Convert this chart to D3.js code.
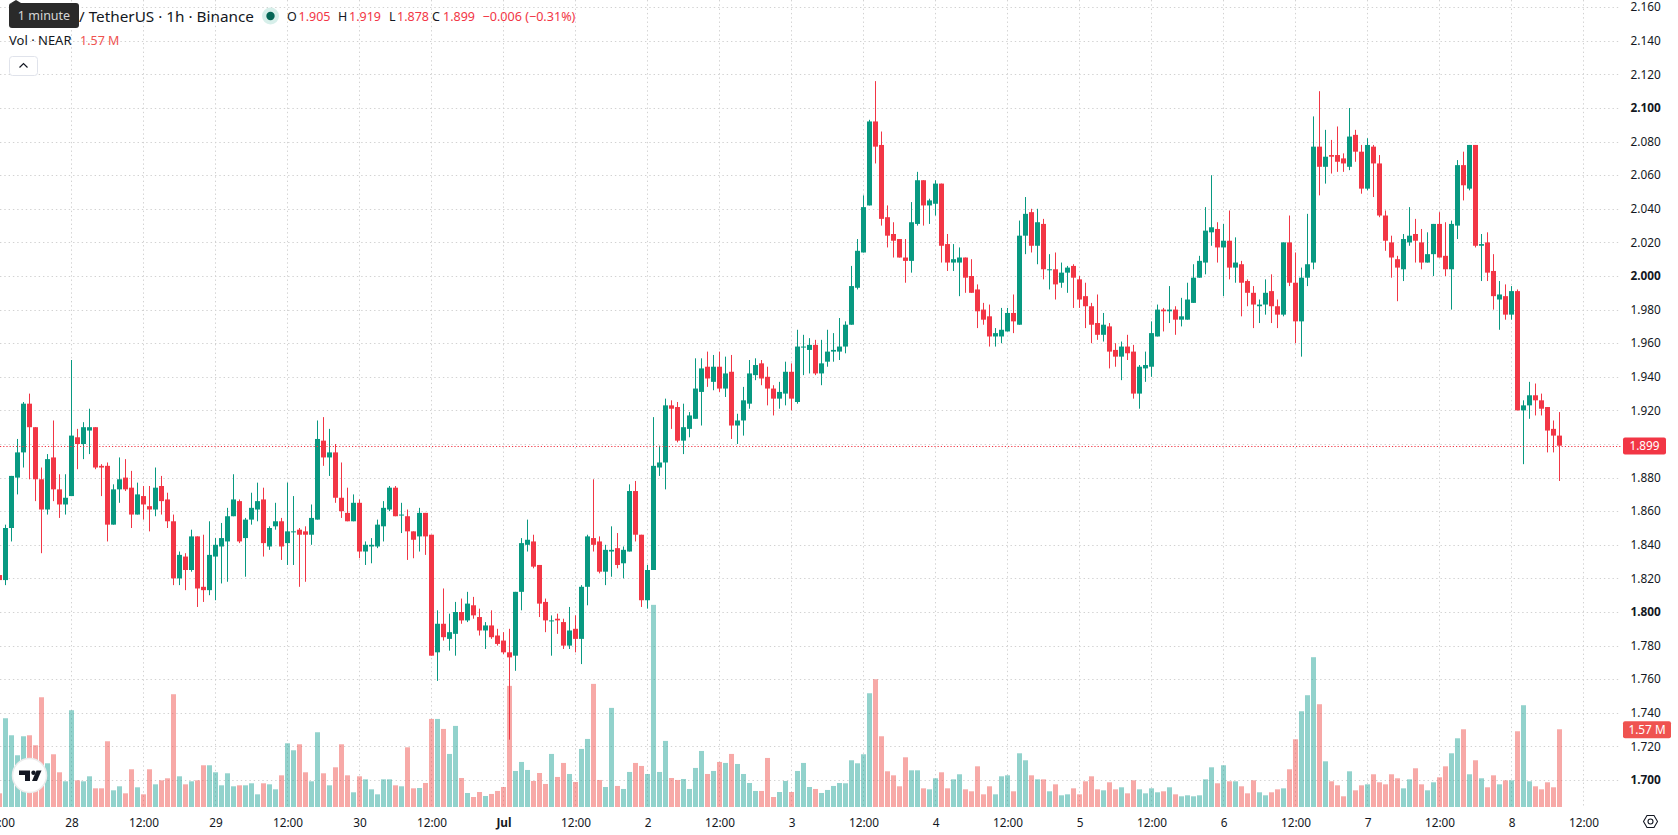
<!DOCTYPE html>
<html>
<head>
<meta charset="utf-8">
<title>NEAR / TetherUS 1h</title>
<script src="https://cdn.jsdelivr.net/npm/d3@7/dist/d3.min.js"></script>
<style>
  html, body { margin: 0; padding: 0; background: #fff; overflow: hidden; }
  svg { display: block; }
  text { font-family: "Noto Sans", "Open Sans", sans-serif; fill: #131722; }
</style>
</head>
<body>
<svg id="chart" width="1678" height="835"></svg>
<script>
// Hourly candles starting 27 Jun 12:00 UTC
const firstBar = Date.UTC(2025, 5, 27, 12);

const opens = [
  1.822,1.819,1.850,1.880,1.895,1.924,1.910,1.879,1.861,1.892,
  1.873,1.864,1.869,1.904,1.900,1.908,1.910,1.887,1.887,1.852,
  1.873,1.880,1.874,1.858,1.869,1.863,1.861,1.875,1.867,1.854,
  1.820,1.833,1.825,1.845,1.815,1.813,1.833,1.839,1.842,1.857,
  1.866,1.844,1.855,1.861,1.867,1.839,1.851,1.854,1.841,1.848,
  1.849,1.848,1.846,1.855,1.902,1.892,1.895,1.868,1.859,1.854,
  1.865,1.836,1.839,1.839,1.851,1.861,1.874,1.858,1.857,1.848,
  1.845,1.859,1.846,1.776,1.793,1.784,1.787,1.800,1.795,1.804,
  1.797,1.789,1.792,1.786,1.783,1.776,1.774,1.812,1.840,1.842,
  1.828,1.806,1.795,1.796,1.794,1.780,1.790,1.784,1.815,1.844,
  1.842,1.824,1.836,1.838,1.829,1.836,1.872,1.846,1.807,1.825,
  1.886,1.889,1.923,1.922,1.902,1.909,1.915,1.931,1.946,1.937,
  1.946,1.933,1.943,1.911,1.914,1.924,1.941,1.948,1.940,1.933,
  1.927,1.930,1.943,1.925,1.958,1.956,1.959,1.942,1.949,1.955,
  1.955,1.958,1.971,1.993,2.014,2.042,2.092,2.078,2.035,2.025,
  2.022,2.011,2.009,2.031,2.057,2.042,2.043,2.055,2.019,2.008,
  2.008,2.011,2.000,1.992,1.980,1.976,1.964,1.964,1.967,1.978,
  1.971,2.024,2.038,2.018,2.031,2.004,2.004,1.996,2.002,2.006,
  1.998,1.988,1.982,1.972,1.965,1.970,1.956,1.952,1.958,1.955,
  1.930,1.945,1.946,1.964,1.980,1.979,1.980,1.974,1.974,1.984,
  1.999,2.008,2.026,2.028,2.017,2.021,2.005,2.007,1.997,1.990,
  1.982,1.983,1.991,1.982,1.977,2.020,1.996,1.973,1.999,2.008,
  2.077,2.065,2.072,2.072,2.070,2.065,2.084,2.074,2.052,2.077,
  2.067,2.036,2.020,2.010,2.004,2.020,2.025,2.020,2.008,2.013,
  2.031,2.012,2.004,2.030,2.066,2.052,2.078,2.018,2.020,2.003,
  1.986,1.988,1.977,1.991,1.920,1.923,1.929,1.926,1.922,1.909,1.905
];

const highs = [
  1.825,1.852,1.881,1.903,1.925,1.930,1.910,1.886,1.894,1.914,
  1.882,1.882,1.950,1.909,1.913,1.921,1.910,1.888,1.889,1.876,
  1.892,1.891,1.884,1.877,1.875,1.875,1.886,1.881,1.871,1.858,
  1.836,1.835,1.849,1.845,1.846,1.854,1.844,1.853,1.862,1.882,
  1.867,1.856,1.871,1.877,1.874,1.851,1.865,1.856,1.877,1.869,
  1.850,1.851,1.864,1.914,1.916,1.909,1.900,1.889,1.874,1.870,
  1.867,1.842,1.844,1.855,1.866,1.875,1.875,1.865,1.861,1.848,
  1.862,1.859,1.846,1.801,1.814,1.799,1.806,1.808,1.812,1.809,
  1.802,1.794,1.801,1.790,1.788,1.790,1.812,1.844,1.855,1.846,
  1.828,1.808,1.798,1.799,1.796,1.803,1.798,1.816,1.846,1.879,
  1.845,1.840,1.851,1.847,1.839,1.876,1.878,1.846,1.828,1.916,
  1.899,1.927,1.926,1.925,1.924,1.919,1.951,1.951,1.955,1.953,
  1.955,1.952,1.953,1.918,1.934,1.950,1.951,1.950,1.946,1.935,
  1.937,1.949,1.948,1.968,1.965,1.963,1.962,1.962,1.968,1.966,
  1.975,1.973,2.006,2.022,2.048,2.093,2.116,2.086,2.042,2.032,
  2.022,2.022,2.044,2.062,2.057,2.046,2.057,2.055,2.025,2.019,
  2.017,2.011,2.010,1.995,1.984,1.983,1.969,1.981,1.981,1.989,
  2.033,2.047,2.040,2.040,2.034,2.013,2.014,2.008,2.006,2.007,
  2.000,1.996,1.984,1.989,1.978,1.972,1.960,1.961,1.965,1.959,
  1.947,1.955,1.973,1.983,1.981,1.994,1.982,1.987,1.996,2.007,
  2.012,2.041,2.060,2.032,2.031,2.039,2.023,2.009,1.998,1.994,
  1.986,1.998,2.001,1.986,2.020,2.036,2.014,2.005,2.037,2.095,
  2.110,2.087,2.081,2.089,2.073,2.100,2.087,2.078,2.082,2.078,
  2.072,2.039,2.024,2.012,2.025,2.041,2.034,2.028,2.026,2.031,
  2.038,2.032,2.033,2.069,2.074,2.078,2.078,2.025,2.026,2.013,
  1.997,1.995,1.994,1.992,1.926,1.937,1.936,1.930,1.922,1.914,1.919
];

const lows = [
  1.815,1.816,1.842,1.870,1.886,1.879,1.866,1.835,1.858,1.866,
  1.856,1.858,1.869,1.885,1.891,1.894,1.885,1.869,1.842,1.852,
  1.865,1.872,1.850,1.858,1.855,1.848,1.857,1.858,1.850,1.816,
  1.816,1.813,1.824,1.803,1.806,1.810,1.807,1.817,1.818,1.857,
  1.841,1.821,1.852,1.854,1.833,1.837,1.849,1.831,1.828,1.828,
  1.815,1.818,1.840,1.855,1.887,1.881,1.865,1.856,1.854,1.854,
  1.832,1.828,1.829,1.838,1.842,1.860,1.857,1.847,1.831,1.832,
  1.836,1.834,1.774,1.759,1.783,1.777,1.774,1.793,1.794,1.796,
  1.786,1.778,1.784,1.780,1.775,1.724,1.765,1.801,1.836,1.826,
  1.797,1.788,1.774,1.787,1.778,1.778,1.776,1.769,1.804,1.836,
  1.823,1.816,1.821,1.826,1.820,1.836,1.842,1.803,1.802,1.825,
  1.881,1.873,1.909,1.901,1.894,1.904,1.915,1.911,1.934,1.932,
  1.931,1.928,1.903,1.900,1.905,1.921,1.938,1.935,1.923,1.917,
  1.921,1.923,1.920,1.924,1.941,1.942,1.941,1.935,1.946,1.949,
  1.950,1.954,1.971,1.992,2.014,2.042,2.067,2.030,2.017,2.011,
  2.011,1.996,2.002,2.030,2.030,2.031,2.036,2.008,2.003,2.003,
  1.988,1.990,1.990,1.969,1.971,1.958,1.958,1.960,1.967,1.966,
  1.971,2.013,2.014,2.007,1.998,1.992,1.986,1.993,1.990,1.981,
  1.981,1.969,1.960,1.962,1.961,1.945,1.946,1.938,1.950,1.927,
  1.921,1.937,1.940,1.964,1.967,1.972,1.965,1.970,1.974,1.984,
  1.999,2.001,2.018,2.008,1.988,1.998,1.996,1.976,1.982,1.969,
  1.972,1.977,1.972,1.969,1.976,1.994,1.960,1.952,1.994,2.004,
  2.048,2.055,2.061,2.062,2.062,2.063,2.068,2.049,2.051,2.047,
  2.035,2.015,1.999,1.985,1.997,2.018,2.008,2.004,2.008,2.000,
  2.011,2.000,1.980,2.022,2.045,2.051,2.017,1.997,1.997,1.980,
  1.968,1.974,1.974,1.920,1.888,1.915,1.917,1.917,1.895,1.895,1.878
];

const closes = [
  1.819,1.850,1.881,1.895,1.924,1.910,1.879,1.861,1.891,1.873,
  1.864,1.868,1.905,1.900,1.910,1.910,1.886,1.886,1.852,1.873,
  1.879,1.873,1.858,1.870,1.864,1.861,1.874,1.866,1.854,1.820,
  1.834,1.825,1.845,1.814,1.813,1.834,1.840,1.844,1.857,1.867,
  1.842,1.855,1.862,1.866,1.841,1.850,1.854,1.839,1.848,1.848,
  1.846,1.846,1.856,1.903,1.892,1.895,1.868,1.860,1.854,1.865,
  1.836,1.840,1.840,1.852,1.862,1.874,1.857,1.858,1.848,1.843,
  1.859,1.845,1.774,1.793,1.785,1.788,1.800,1.795,1.805,1.798,
  1.789,1.792,1.785,1.781,1.776,1.773,1.812,1.841,1.843,1.827,
  1.805,1.795,1.795,1.795,1.780,1.789,1.784,1.815,1.845,1.840,
  1.824,1.837,1.837,1.828,1.837,1.872,1.846,1.807,1.825,1.887,
  1.889,1.923,1.921,1.902,1.910,1.917,1.933,1.945,1.939,1.946,
  1.933,1.942,1.911,1.914,1.926,1.942,1.947,1.939,1.933,1.927,
  1.931,1.943,1.927,1.958,1.958,1.959,1.942,1.948,1.955,1.956,
  1.958,1.971,1.994,2.015,2.041,2.092,2.077,2.034,2.024,2.021,
  2.011,2.009,2.032,2.057,2.042,2.045,2.055,2.018,2.008,2.010,
  2.011,1.999,1.990,1.979,1.974,1.964,1.966,1.968,1.978,1.973,
  2.024,2.037,2.018,2.032,2.004,2.004,1.995,2.002,2.005,1.999,
  1.986,1.982,1.971,1.965,1.971,1.955,1.952,1.958,1.954,1.930,
  1.946,1.947,1.966,1.980,1.979,1.980,1.974,1.976,1.986,1.999,
  2.009,2.027,2.029,2.017,2.021,2.005,2.008,1.996,1.990,1.983,
  1.983,1.990,1.982,1.977,2.020,1.996,1.973,1.999,2.007,2.077,
  2.065,2.071,2.071,2.068,2.067,2.083,2.074,2.052,2.078,2.067,
  2.036,2.021,2.011,2.005,2.022,2.024,2.021,2.008,2.013,2.031,
  2.011,2.004,2.031,2.066,2.054,2.078,2.018,2.019,2.002,1.988,
  1.989,1.977,1.991,1.920,1.923,1.929,1.926,1.921,1.908,1.905,1.899
];

// Volume per hour, in thousands of NEAR
const volumes = [
  276,1793,1449,1045,1429,1449,1247,2217,883,1065,
  701,519,1955,539,519,620,377,377,1328,337,
  418,276,762,398,256,762,458,539,580,2278,
  620,458,519,539,843,843,701,438,681,418,
  438,438,479,256,479,458,357,640,1287,1146,
  1267,701,519,1510,681,438,802,1267,640,297,
  620,559,357,256,559,559,438,418,1206,377,
  384,485,1779,1779,1577,1072,1638,586,283,202,
  303,222,263,324,404,2447,728,910,748,526,
  687,465,1072,607,890,667,506,1173,1375,2487,
  546,404,2002,425,364,708,890,829,667,4084,
  708,1335,586,546,566,364,789,1132,667,728,
  910,890,1072,869,667,485,324,324,991,202,
  303,526,303,728,890,404,364,283,344,425,
  485,479,944,883,1065,2298,2581,1429,721,640,
  418,1004,741,741,377,357,580,701,377,559,
  661,357,317,822,256,418,256,620,640,317,
  1085,944,640,559,559,317,458,236,256,377,
  256,519,620,357,337,499,357,398,276,539,
  357,276,377,297,317,398,256,216,236,216,
  236,559,802,479,843,519,519,418,276,539,
  297,236,297,357,377,762,1368,1934,2258,3026,
  2076,923,519,438,216,721,337,438,458,661,
  499,458,661,580,377,559,782,458,337,499,
  600,822,1085,1388,1570,661,944,580,398,640,
  458,539,539,1530,2056,519,418,357,499,398,1570
];

const gridPrices = d3.range(108, 85 - 1e-9, -1).map(k => +(k * 0.02).toFixed(2)).filter(p => p >= 1.7 - 1e-9 && p <= 2.16 + 1e-9);
const priceTickLabels = ["2.160","2.140","2.120","2.100","2.080","2.060","2.040","2.020","2.000","1.980","1.960","1.940","1.920","1.880","1.860","1.840","1.820","1.800","1.780","1.760","1.740","1.720","1.700"];
const boldPriceLabels = ["2.100","2.000","1.800","1.700"];

const legendValues = [
  { key: "O", label: "1.905", keyX: 287, valX: 298.5 },
  { key: "H", label: "1.919", keyX: 338, valX: 349 },
  { key: "L", label: "1.878", keyX: 389, valX: 397 },
  { key: "C", label: "1.899", keyX: 432, valX: 443 }
];

const upColor = "#089981", downColor = "#f23645";
const volUp = "rgba(38,166,154,0.5)", volDown = "rgba(239,83,80,0.5)";
const gridColor = "#d2d2d2";
const plotRight = 1621, plotBottom = 807;
const hour = 3600e3;

const bars = closes.map((c, i) => ({
  t: new Date(firstBar + i * hour), o: opens[i], h: highs[i], l: lows[i], c, v: volumes[i], up: c >= opens[i]
}));

const x = d3.scaleUtc()
  .domain([new Date(firstBar), new Date(firstBar + 260 * hour)])
  .range([-0.5, 1559.5]);
const y = d3.scaleLinear().domain([1.70, 2.16]).range([780, 7.2]);
const yVol = d3.scaleLinear().domain([0, 4000]).range([plotBottom, 609]);

const svg = d3.select("#chart");

// Dotted grid
const grid = svg.append("g").attr("stroke", gridColor).attr("stroke-dasharray", "1.4 2.9").attr("stroke-width", 1);
grid.selectAll("line.h").data(gridPrices).join("line").attr("class", "h")
  .attr("x1", 0).attr("x2", plotRight)
  .attr("y1", d => Math.round(y(d)) + 0.5).attr("y2", d => Math.round(y(d)) + 0.5);
const gridTimes = d3.range(1, 23).map(k => new Date(firstBar + k * 12 * hour));
grid.selectAll("line.v").data(gridTimes).join("line").attr("class", "v")
  .attr("y1", 0).attr("y2", plotBottom)
  .attr("x1", d => x(d)).attr("x2", d => x(d));

// Volume histogram sits behind the candles
svg.append("g").selectAll("rect").data(bars).join("rect")
  .attr("x", d => x(d.t) - 2.5).attr("width", 5)
  .attr("y", d => yVol(d.v)).attr("height", d => plotBottom - yVol(d.v))
  .attr("fill", d => d.up ? volUp : volDown);

// Candles: wick then body
const candles = svg.append("g").selectAll("g").data(bars).join("g")
  .attr("fill", d => d.up ? upColor : downColor);
candles.append("rect")
  .attr("x", d => x(d.t) - 0.5).attr("width", 1)
  .attr("y", d => y(d.h)).attr("height", d => y(d.l) - y(d.h));
candles.append("rect")
  .attr("x", d => x(d.t) - 2.5).attr("width", 5)
  .attr("y", d => y(Math.max(d.o, d.c)))
  .attr("height", d => Math.max(1, Math.abs(y(d.o) - y(d.c))));

// Last-price line
const last = bars[bars.length - 1];
svg.append("line").attr("x1", 0).attr("x2", plotRight)
  .attr("y1", Math.round(y(last.c)) + 0.5).attr("y2", Math.round(y(last.c)) + 0.5)
  .attr("stroke", downColor).attr("stroke-dasharray", "1.2 2");

// Price axis
const priceAxis = d3.axisRight(y)
  .tickValues(priceTickLabels.map(Number))
  .tickFormat(d3.format(".3f"))
  .tickSize(0).tickPadding(9.5);
const gPrice = svg.append("g").attr("transform", `translate(${plotRight},0)`).call(priceAxis);
gPrice.select(".domain").remove();
gPrice.selectAll("text")
  .style("font-size", "11.8px")
  .style("font-family", '"Noto Sans", sans-serif')
  .style("font-weight", d => boldPriceLabels.includes(d3.format(".3f")(d)) ? 700 : 400);

// Time axis: day numbers at midnight, 12:00 at noon
const timeTicks = d3.range(0, 23).map(k => new Date(firstBar + k * 12 * hour));
const fmtTime = d => {
  if (d.getUTCHours() === 12) return "12:00";
  return d.getUTCDate() === 1 ? "Jul" : String(d.getUTCDate());
};
const timeAxis = d3.axisBottom(x).tickValues(timeTicks).tickFormat(fmtTime).tickSize(0).tickPadding(0);
const gTime = svg.append("g").attr("transform", `translate(0,${plotBottom + 12})`).call(timeAxis);
gTime.select(".domain").remove();
gTime.selectAll("text")
  .style("font-size", "11.8px")
  .style("font-family", '"Noto Sans", sans-serif')
  .style("font-weight", d => fmtTime(d) === "Jul" ? 700 : 400);

// Price and volume tags on the axis
function axisTag(yTop, w, h, fill, label) {
  svg.append("rect").attr("x", 1623).attr("y", yTop).attr("width", w).attr("height", h).attr("rx", 2).attr("fill", fill);
  svg.append("text").attr("x", 1623 + w / 2).attr("y", yTop + h / 2 + 4.2)
    .attr("text-anchor", "middle").style("fill", "#fff").style("font-size", "11.8px").text(label);
}
axisTag(Math.round(y(last.c)) - 8.5, 43, 17, downColor, d3.format(".3f")(last.c));
axisTag(yVol(last.v) - 8, 48, 17, "#ef5350", (last.v / 1000).toFixed(2) + " M");

// Legend rows
const legend = svg.append("g");
legend.append("text").attr("x", 79).attr("y", 21.5).style("font-size", "15.3px").text("/ TetherUS · 1h · Binance");
legend.append("circle").attr("cx", 270.5).attr("cy", 16).attr("r", 8.5).attr("fill", "#d7efea");
legend.append("circle").attr("cx", 270.5).attr("cy", 16).attr("r", 4.2).attr("fill", "#056656");
legendValues.forEach(v => {
  legend.append("text").attr("x", v.keyX).attr("y", 20.5).style("font-size", "12.5px").text(v.key);
  legend.append("text").attr("x", v.valX).attr("y", 20.5).style("font-size", "12.5px").style("fill", downColor).text(v.label);
});
legend.append("text").attr("x", 482.5).attr("y", 20.5).style("font-size", "12.6px").style("fill", downColor).text("−0.006 (−0.31%)");
legend.append("text").attr("x", 9).attr("y", 45).style("font-size", "13px").text("Vol · NEAR");
legend.append("text").attr("x", 80).attr("y", 45).style("font-size", "12.5px").style("fill", "#ef5350").text("1.57 M");

// Collapse button
legend.append("rect").attr("x", 9.5).attr("y", 56.5).attr("width", 28).attr("height", 19).attr("rx", 3)
  .attr("fill", "#fff").attr("stroke", "#e0e3eb");
legend.append("path").attr("d", "M19.5 67.5 L23.5 63.5 L27.5 67.5").attr("fill", "none").attr("stroke", "#131722").attr("stroke-width", 1.2);

// Tooltip over the symbol name
const tip = svg.append("g");
tip.append("path").attr("d", "M11 3 L16 0 L21 3 Z").attr("fill", "#2a2a2a");
tip.append("rect").attr("x", 9).attr("y", 3).attr("width", 70).attr("height", 25).attr("rx", 3).attr("fill", "#2a2a2a");
tip.append("text").attr("x", 44).attr("y", 20).attr("text-anchor", "middle").style("fill", "#d6d6d6").style("font-size", "12.5px").text("1 minute");

// Logo badge
const logo = svg.append("g");
logo.append("circle").attr("cx", 29.5).attr("cy", 775.5).attr("r", 17).attr("fill", "#fff").attr("stroke", "#ececec").attr("stroke-width", 1.5);
logo.append("path").attr("d", "M19 770.5 H30 V781 H25 V775 H19 Z").attr("fill", "#131722");
logo.append("circle").attr("cx", 33.5).attr("cy", 772.7).attr("r", 2.2).attr("fill", "#131722");
logo.append("path").attr("d", "M36.5 770.5 H41.5 L37 781 H32 Z").attr("fill", "#131722");

// Settings icon
const gear = svg.append("g").attr("fill", "none").attr("stroke", "#131722").attr("stroke-width", 1.1);
gear.append("path").attr("d", "M1643.5 821.5 L1647 815.5 H1654 L1657.5 821.5 L1654 827.5 H1647 Z");
gear.append("circle").attr("cx", 1650.5).attr("cy", 821.5).attr("r", 2.5);
</script>
</body>
</html>
